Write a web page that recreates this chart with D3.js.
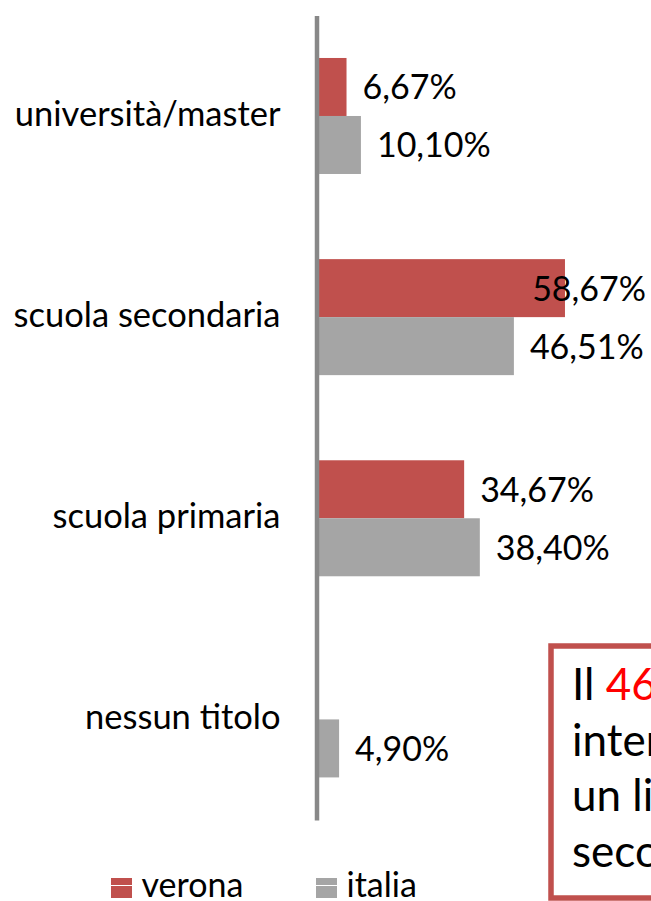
<!DOCTYPE html>
<html>
<head>
<meta charset="utf-8">
<script src="https://cdn.jsdelivr.net/npm/d3@7"></script>
<style>
body { margin: 0; background: #fff; }
svg { display: block; font-family: "Lato", sans-serif; }
.axis .domain { stroke: #888888; stroke-width: 4.5px; }
.axis text { font-size: 34.5px; fill: #000; font-family: "Lato", sans-serif; }
.val { font-size: 34px; fill: #000; }
.legend text { font-size: 34px; fill: #000; }
.note text { font-size: 44px; fill: #000; }
</style>
</head>
<body>
<svg id="chart" width="651" height="901"></svg>
<script>

// data
var categories = ["università/master", "scuola secondaria", "scuola primaria", "nessun titolo"];
var seriesNames = ["verona", "italia"];
var verona = [6.67, 58.67, 34.67, null];
var italia = [10.10, 46.51, 38.40, 4.90];
var colors = ["#C0504D", "#A5A5A5"];
var noteLines = [["Il ", "46,51%", " degli"], ["intervistati ha"], ["un livello di"], ["secondaria"]];

var svg = d3.select("#chart");

var x = d3.scaleLinear()
    .domain([0, 100])
    .range([318.5, 738.6]);

var y = d3.scaleBand()
    .domain(categories)
    .range([15.4, 820])
    .paddingInner(0.4233)
    .paddingOuter(0.2117);

var y1 = d3.scaleBand()
    .domain(seriesNames)
    .range([0, y.bandwidth()]);

var values = [verona, italia];

/// bars
seriesNames.forEach(function(s, si) {
  var rows = categories.map(function(c, i) { return {cat: c, v: values[si][i]}; })
      .filter(function(d) { return d.v != null; });

  svg.append("g").selectAll("rect")
      .data(rows)
    .enter().append("rect")
      .attr("x", x(0))
      .attr("y", function(d) { return y(d.cat) + y1(s); })
      .attr("width", function(d) { return x(d.v) - x(0); })
      .attr("height", y1.bandwidth())
      .attr("fill", colors[si]);

  svg.append("g").selectAll("text")
      .data(rows)
    .enter().append("text")
      .attr("class", "val")
      .attr("y", function(d) { return y(d.cat) + y1(s) + y1.bandwidth() / 2 + 12.5; })
      .text(function(d) { return d3.format(".2f")(d.v).replace(".", ",") + "%"; })
      .attr("x", function(d) {
        var w = this.getComputedTextLength();
        return Math.min(x(d.v) + 16, 646 - w); /// keep inside the plot like excel does
      });
});

/// category axis
var yAxis = d3.axisLeft(y).tickSize(0).tickSizeOuter(0).tickPadding(36);
svg.append("g")
    .attr("class", "axis")
    .attr("transform", "translate(316.5,0)")
    .call(yAxis)
  .selectAll("text")
    .attr("dy", "10px");

/// legend
var leg = svg.append("g").attr("class", "legend");
var legX = [111, 316];
seriesNames.forEach(function(s, i) {
  leg.append("rect")
      .attr("x", legX[i]).attr("y", 878)
      .attr("width", 21).attr("height", 20)
      .attr("fill", colors[i]);
  leg.append("line")
      .attr("x1", legX[i]).attr("x2", legX[i] + 21)
      .attr("y1", 885.5).attr("y2", 885.5)
      .attr("stroke", "#fff").attr("stroke-width", 1);
  leg.append("text")
      .attr("x", legX[i] + 30.5).attr("y", 897)
      .text(s);
});

/// note box, cut by the right edge
var note = svg.append("g").attr("class", "note");
note.append("rect")
    .attr("x", 551).attr("y", 646)
    .attr("width", 260).attr("height", 252)
    .attr("fill", "#fff")
    .attr("stroke", "#C0504D")
    .attr("stroke-width", 5.5);

noteLines.forEach(function(parts, i) {
  var t = note.append("text")
      .attr("x", 572)
      .attr("y", 700 + i * 55.5);
  parts.forEach(function(p, j) {
    t.append("tspan")
        .attr("fill", (i == 0 && j == 1) ? "#FF0000" : "#000")
        .text(p);
  });
});

</script>
</body>
</html>
